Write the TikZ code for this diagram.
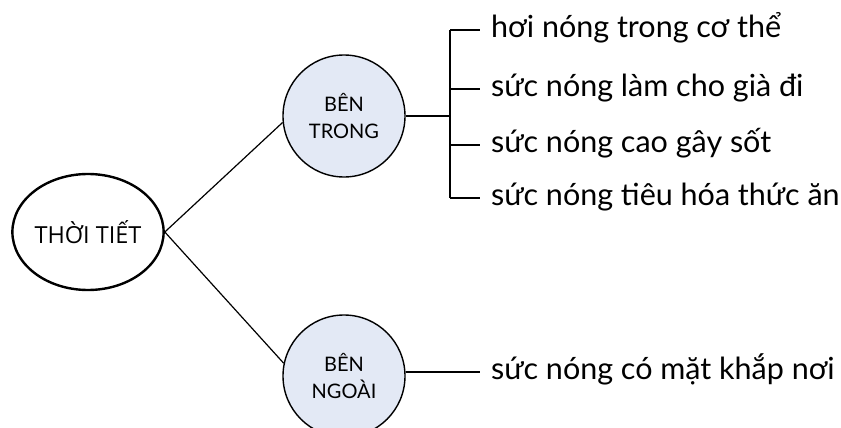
\documentclass[tikz,border=0pt]{standalone}
\usepackage{fontspec}
\setmainfont{Lato}
\newfontfamily\rootfont{Open Sans}
\usetikzlibrary{shapes.geometric}
\definecolor{bubblefill}{RGB}{227,233,245}
\tikzset{
  rootnode/.style={ellipse, draw, line width=2.4pt, minimum width=150pt, minimum height=116pt, inner sep=0pt, font=\rootfont\fontsize{23.5}{26}\selectfont},
  bubble/.style={circle, draw, fill=bubblefill, line width=1.4pt, minimum size=122pt, inner sep=0pt, align=center, font=\fontsize{20}{27}\selectfont},
  leaf/.style={anchor=base west, inner sep=0pt, font=\fontsize{30.5}{32}\selectfont},
  link/.style={line width=1.2pt},
  joint/.style={line width=2.6pt}
}
\begin{document}
\begin{tikzpicture}[x=1pt, y=-1pt]
  \useasboundingbox (0,0) rectangle (841,428);
  \clip (0,0) rectangle (841,428);

  % main topic and its two sub-topics
  \node[rootnode] (weather) at (88,232) {THỜI TIẾT};
  \node[bubble] (inner) at (344,116) {BÊN\\TRONG};
  \node[bubble] (outer) at (344,376) {BÊN\\NGOÀI};

  \draw[link] (weather.east) -- (inner.186);
  \draw[link] (weather.east) -- (outer.168);

  % ends of the leaf ticks, level with the middle of the lower-case letters
  \coordinate (e1) at (480,30);
  \coordinate (e2) at (480,89);
  \coordinate (e3) at (480,145);
  \coordinate (e4) at (480,198);
  \coordinate (e5) at (480,372);

  % leaves of the inner branch
  \node[leaf] (l1) at (491,37.7) {hơi nóng trong cơ thể};
  \node[leaf] (l2) at (491,96.7) {sức nóng làm cho già đi};
  \node[leaf] (l3) at (491,152.7) {sức nóng cao gây sốt};
  \node[leaf] (l4) at (491,205.7) {sức nóng tiêu hóa thức ăn};

  \coordinate (hub) at (450,116);
  \coordinate (hubin) at (435,116);

  \draw[link] (inner.east) -- (hub);
  \draw[joint] (hubin) -- (hub);
  \draw[link] (hub |- e1) -- (hub |- e4);
  \foreach \n in {1,...,4}
    \draw[link] (hub |- e\n) -- (e\n);

  % leaf of the outer branch
  \node[leaf] (l5) at (491,379.7) {sức nóng có mặt khắp nơi};
  \coordinate (ja) at (447,372);
  \coordinate (jb) at (465,372);
  \draw[link] (outer.east |- e5) -- (e5);
  \draw[joint] (ja) -- (jb);
\end{tikzpicture}
\end{document}
